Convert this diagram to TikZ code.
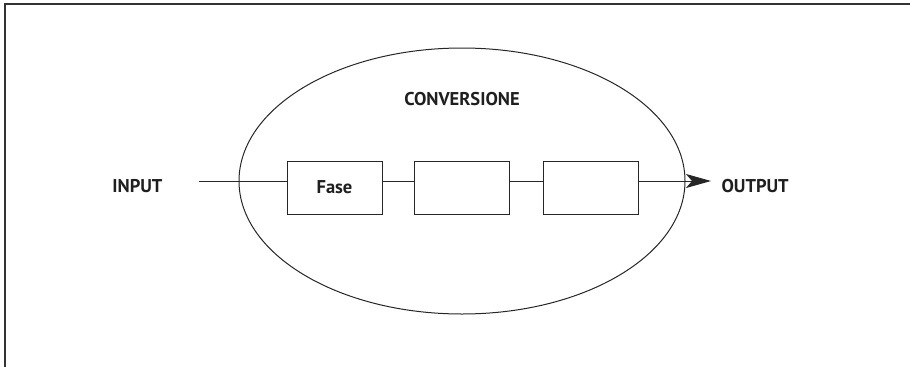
\documentclass[tikz,border=0pt]{standalone}
\usepackage{fontspec}
\setmainfont{PT Sans}
\usetikzlibrary{arrows.meta,shapes.geometric}

\begin{document}
\begin{tikzpicture}[x=1bp, y=-1bp, line width=1bp,
		blocco/.style={draw=black!85, minimum width=95bp, minimum height=53bp, inner sep=0pt},
		testo/.style={inner sep=0pt, text=black!88, font=\bfseries\fontsize{18.5bp}{20bp}\selectfont}]
	\useasboundingbox (0,0) rectangle (910,366);

	% cornice
	\draw[line width=2bp, black!80] (5,370) |- (915,4);

	% ellisse della conversione
	\node[ellipse, minimum width=446bp, minimum height=266bp, inner sep=0pt] (conv) at (462,181) {};
	\draw[black!85] (conv.center) ellipse [x radius=223, y radius=133];
	\node[testo] (titolo) at (462,99) {CONVERSIONE};

	\node[blocco, testo] (f1) at (334.5,187.5) {Fase};
	\node[blocco] (f2) at (462,187.5) {};
	\node[blocco] (f3) at (590.5,187.5) {};

	\node[testo, anchor=east] (input) at (163,186) {INPUT};
	\node[testo, anchor=west] (output) at (721,186) {OUTPUT};

	\coordinate (a) at (199,181);
	\coordinate (b) at (711,181);

	\draw[black!85] (a) -- (a -| f1.west);
	\draw[black!85] (f1.east |- a) -- (a -| f2.west);
	\draw[black!85] (f2.east |- a) -- (a -| f3.west);
	\draw[black!85, -{Stealth[length=25bp, width=14bp, inset=6bp]}] (f3.east |- a) -- (b);
\end{tikzpicture}
\end{document}
